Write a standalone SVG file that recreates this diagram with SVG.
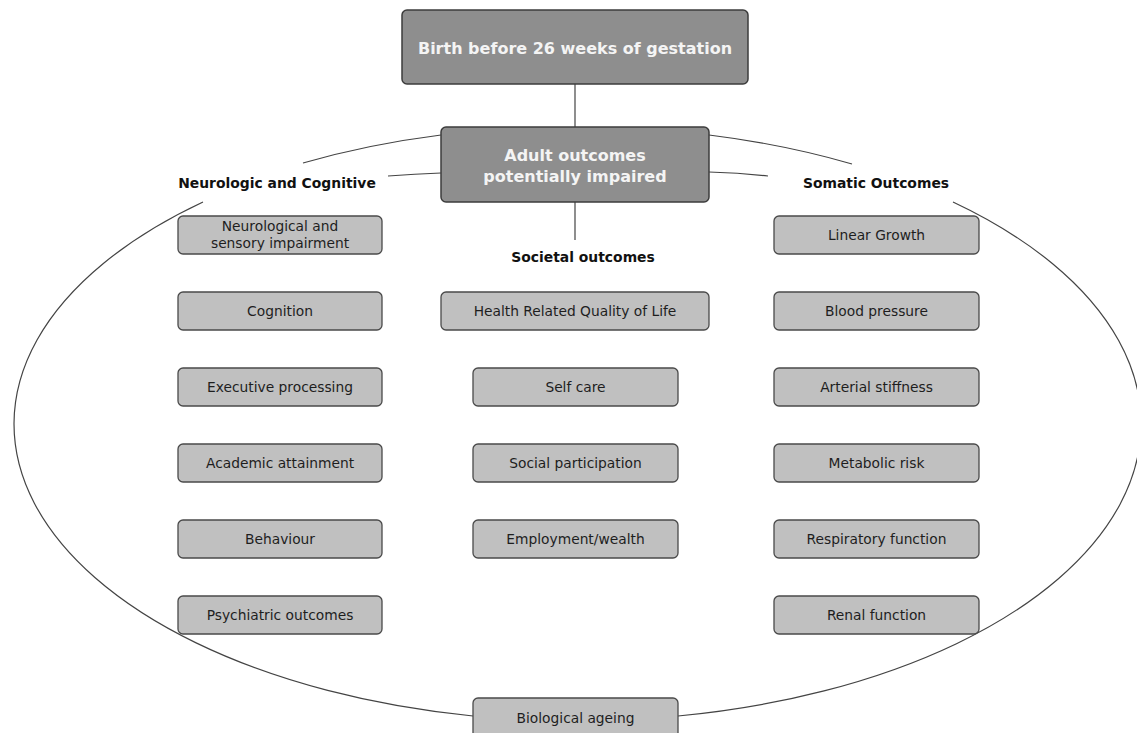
<svg xmlns="http://www.w3.org/2000/svg" width="1137" height="733" viewBox="0 0 1137 733">
<style>
.dark{fill:#8e8e8e;stroke:#3c3c3c;stroke-width:1.5}
.light{fill:#c0c0c0;stroke:#4a4a4a;stroke-width:1.3}
.wt{font-family:"DejaVu Sans",sans-serif;font-weight:bold;font-size:16px;fill:#f4f4f4;text-anchor:middle}
.bt{font-family:"DejaVu Sans",sans-serif;font-size:13.8px;fill:#1e1e1e;text-anchor:middle}
.hd{font-family:"DejaVu Sans",sans-serif;font-weight:bold;font-size:13.9px;fill:#111;text-anchor:middle}
.ln{fill:none;stroke:#444;stroke-width:1.2}
</style>
<rect width="1137" height="733" fill="#fff"/>
<g id="connectors">
<line class="ln" x1="575" y1="84" x2="575" y2="127"/>
<line class="ln" x1="575" y1="202" x2="575" y2="240"/>
<path class="ln" d="M303,163 A562.5,297 0 0 1 441,135"/>
<path class="ln" d="M709,135 A562.5,297 0 0 1 852,164"/>
<path class="ln" d="M953,202 A562.5,297 0 0 1 678,716"/>
<path class="ln" d="M473,716 A562.5,297 0 0 1 203,202"/>
<path class="ln" d="M441,173 Q415,174 388,176"/>
<path class="ln" d="M709,172 Q740,173 768,176"/>
</g>
<g id="birth"><rect class="dark" x="402" y="10" width="346" height="74" rx="5"/><text class="wt" x="575" y="54">Birth before 26 weeks of gestation</text></g>
<g id="adult"><rect class="dark" x="441" y="127" width="268" height="75" rx="5"/><text class="wt" x="575" y="161">Adult outcomes</text><text class="wt" x="575" y="182">potentially impaired</text></g>
<g id="hd-neuro"><text class="hd" x="277" y="188">Neurologic and Cognitive</text></g>
<g id="hd-somatic"><text class="hd" x="876" y="188">Somatic Outcomes</text></g>
<g id="hd-societal"><text class="hd" x="583" y="262">Societal outcomes</text></g>
<g id="n1"><rect class="light" x="178" y="216" width="204" height="38" rx="5"/><text class="bt" x="280" y="231">Neurological and</text><text class="bt" x="280" y="248">sensory impairment</text></g>
<g id="n2"><rect class="light" x="178" y="292" width="204" height="38" rx="5"/><text class="bt" x="280" y="316">Cognition</text></g>
<g id="n3"><rect class="light" x="178" y="368" width="204" height="38" rx="5"/><text class="bt" x="280" y="392">Executive processing</text></g>
<g id="n4"><rect class="light" x="178" y="444" width="204" height="38" rx="5"/><text class="bt" x="280" y="468">Academic attainment</text></g>
<g id="n5"><rect class="light" x="178" y="520" width="204" height="38" rx="5"/><text class="bt" x="280" y="544">Behaviour</text></g>
<g id="n6"><rect class="light" x="178" y="596" width="204" height="38" rx="5"/><text class="bt" x="280" y="620">Psychiatric outcomes</text></g>
<g id="s1"><rect class="light" x="441" y="292" width="268" height="38" rx="5"/><text class="bt" x="575" y="316">Health Related Quality of Life</text></g>
<g id="s2"><rect class="light" x="473" y="368" width="205" height="38" rx="5"/><text class="bt" x="575.5" y="392">Self care</text></g>
<g id="s3"><rect class="light" x="473" y="444" width="205" height="38" rx="5"/><text class="bt" x="575.5" y="468">Social participation</text></g>
<g id="s4"><rect class="light" x="473" y="520" width="205" height="38" rx="5"/><text class="bt" x="575.5" y="544">Employment/wealth</text></g>
<g id="bio"><rect class="light" x="473" y="698" width="205" height="40" rx="5"/><text class="bt" x="575.5" y="723">Biological ageing</text></g>
<g id="m1"><rect class="light" x="774" y="216" width="205" height="38" rx="5"/><text class="bt" x="876.5" y="240">Linear Growth</text></g>
<g id="m2"><rect class="light" x="774" y="292" width="205" height="38" rx="5"/><text class="bt" x="876.5" y="316">Blood pressure</text></g>
<g id="m3"><rect class="light" x="774" y="368" width="205" height="38" rx="5"/><text class="bt" x="876.5" y="392">Arterial stiffness</text></g>
<g id="m4"><rect class="light" x="774" y="444" width="205" height="38" rx="5"/><text class="bt" x="876.5" y="468">Metabolic risk</text></g>
<g id="m5"><rect class="light" x="774" y="520" width="205" height="38" rx="5"/><text class="bt" x="876.5" y="544">Respiratory function</text></g>
<g id="m6"><rect class="light" x="774" y="596" width="205" height="38" rx="5"/><text class="bt" x="876.5" y="620">Renal function</text></g>
</svg>
